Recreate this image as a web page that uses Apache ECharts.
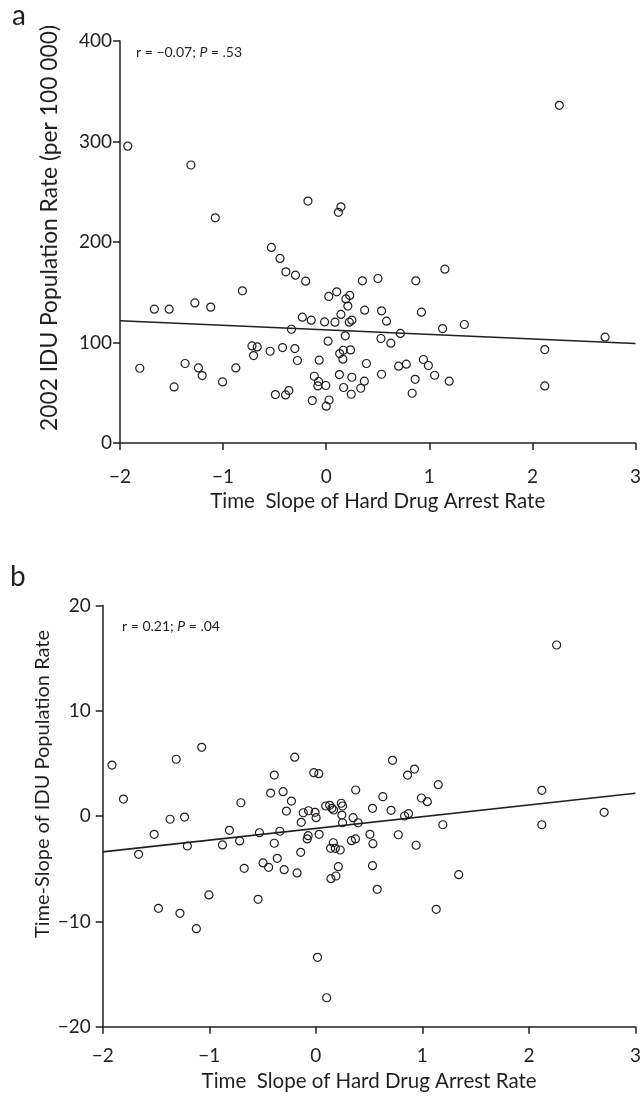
<!DOCTYPE html>
<html>
<head>
<meta charset="utf-8">
<script src="https://cdn.jsdelivr.net/npm/echarts@6/dist/echarts.min.js"></script>
<style>
html,body{margin:0;padding:0;background:#fff;}
#chart{width:644px;height:1100px;}
</style>
</head>
<body>
<div id="chart"></div>
<script>
// panel a: x = time slope of hard drug arrest rate, y = 2002 IDU population rate
var pointsA = [
	[-1.925,295.4],[-1.312,276.6],[-1.076,224.1],[-0.177,240.7],[0.143,235],[0.118,229.5],
	[2.261,336],[-0.532,194.6],[-0.448,183.7],[-0.391,170.3],[-0.298,167],[-0.199,161],
	[0.351,161.4],[0.502,163.7],[-0.813,151.4],[-1.667,133.2],[-1.523,133.2],[-1.274,139.4],
	[-1.12,135.2],[0.025,145.8],[0.102,150.4],[0.191,143.4],[0.229,146.8],[0.21,136.2],
	[0.143,127.9],[0.373,132.2],[0.224,120.2],[0.249,122.2],[-0.231,125.2],[-0.145,122.2],
	[-0.016,120.5],[0.085,120.2],[-0.337,113.2],[0.185,106.6],[0.018,101.3],[-1.808,74.4],
	[-1.475,55.8],[-1.369,79.1],[-1.239,74.7],[-1.203,67.1],[-1.005,60.8],[-0.877,74.7],
	[-0.72,96.6],[-0.669,95.6],[-0.704,87],[-0.544,91.3],[-0.423,95],[-0.304,94],
	[-0.279,82.1],[-0.493,48.2],[-0.394,47.8],[-0.362,52.2],[-0.068,82.4],[-0.135,42.2],
	[-0.116,66.4],[-0.074,61.2],[-0.081,56.8],[-0.004,57.2],[0.028,42.8],[0,36.6],
	[0.128,68.1],[0.131,89],[0.166,92.3],[0.162,83.4],[0.236,92.6],[0.169,55.2],
	[0.249,65.4],[0.243,48.5],[0.335,54.5],[0.37,61.5],[0.39,79.1],[0.869,161.4],
	[1.151,173],[0.537,131.5],[0.585,121.2],[0.924,130.2],[0.719,109],[1.129,113.9],
	[1.34,117.9],[0.531,104],[0.627,99.3],[2.705,105.3],[2.12,93],[2.12,56.8],
	[0.703,76.4],[0.777,78.4],[0.943,83.1],[0.991,77.1],[1.052,67.4],[0.537,68.4],
	[0.863,63.4],[0.834,49.5],[1.193,61.5]
];
var fitA = [[-2,121.6],[3,99]];

// panel b: x = same, y = time slope of IDU population rate
var pointsB = [
	[-1.913,4.85],[-1.31,5.4],[-1.071,6.53],[-0.198,5.6],[2.26,16.25],[0.72,5.3],
	[-1.805,1.62],[-1.368,-0.3],[-1.232,-0.09],[-1.517,-1.73],[-1.663,-3.63],[-1.205,-2.84],
	[-1.477,-8.76],[-1.275,-9.23],[-1.121,-10.69],[-1.003,-7.49],[-0.876,-2.74],[-0.811,-1.35],
	[-0.715,-2.36],[-0.703,1.27],[-0.672,-4.96],[-0.542,-7.9],[-0.529,-1.58],[-0.495,-4.45],
	[-0.443,-4.86],[-0.424,2.19],[-0.39,3.9],[-0.39,-2.58],[-0.362,-4.01],[-0.337,-1.44],
	[-0.307,2.32],[-0.276,0.48],[-0.297,-5.09],[-0.229,1.43],[-0.176,-5.4],[-0.142,-3.44],
	[-0.137,-0.59],[-0.118,0.32],[-0.068,0.51],[-0.007,0.36],[0.003,-0.15],[-0.081,-2.17],
	[-0.072,-1.86],[0.031,-1.73],[-0.019,4.12],[0.028,4.03],[0.093,0.96],[0.13,1.02],
	[0.151,0.74],[0.167,0.58],[0.239,1.22],[0.251,0.96],[0.244,0.1],[0.251,-0.63],
	[0.374,2.48],[0.35,-0.15],[0.397,-0.63],[0.164,-2.53],[0.139,-3.06],[0.183,-3.06],
	[0.229,-3.22],[0.211,-4.8],[0.142,-5.94],[0.189,-5.69],[0.334,-2.33],[0.372,-2.17],
	[0.508,-1.73],[0.532,0.74],[0.536,-2.62],[0.532,-4.71],[0.576,-6.95],[0.016,-13.41],
	[0.102,-17.25],[0.861,3.9],[0.926,4.47],[1.149,2.98],[0.629,1.84],[0.706,0.55],
	[0.991,1.72],[1.047,1.37],[0.833,0.01],[0.87,0.23],[1.192,-0.82],[0.774,-1.77],
	[0.941,-2.77],[1.341,-5.56],[1.13,-8.85],[2.121,2.45],[2.121,-0.82],[2.706,0.36]
];
var fitB = [[-2,-3.4],[3,2.17]];

var xRange = [-2, 3, 1];
var yRangeA = [0, 400, 100];
var yRangeB = [-20, 20, 10];

var xTitle = 'Time  Slope of Hard Drug Arrest Rate';
var yTitleA = '2002 IDU Population Rate (per 100 000)';
var yTitleB = 'Time-Slope of IDU Population Rate';

var ink = '#231f20';
var font = 'Lato';

function minus(v){ return String(v).replace('-', '\u2212'); }

function xAxisFor(idx, labelMargin, gap){
	return {
		type:'value', gridIndex:idx, min:xRange[0], max:xRange[1], interval:xRange[2],
		name:xTitle, nameLocation:'middle', nameGap:gap,
		nameTextStyle:{color:ink, fontSize:20.5, fontFamily:font},
		axisLine:{show:true, onZero:false, lineStyle:{color:ink, width:1.5}},
		axisTick:{show:true, inside:false, length:7, lineStyle:{color:ink, width:1.5}},
		axisLabel:{color:ink, fontSize:19, fontFamily:font, margin:labelMargin, formatter:minus},
		splitLine:{show:false}
	};
}
function yAxisFor(idx, range, labelMargin){
	return {
		type:'value', gridIndex:idx, min:range[0], max:range[1], interval:range[2],
		axisLine:{show:true, onZero:false, lineStyle:{color:ink, width:1.5}},
		axisTick:{show:true, inside:false, length:7, lineStyle:{color:ink, width:1.5}},
		axisLabel:{color:ink, fontSize:19, fontFamily:font, margin:labelMargin, formatter:minus},
		splitLine:{show:false}
	};
}
function dots(idx, data){
	return {
		type:'scatter', xAxisIndex:idx, yAxisIndex:idx, data:data,
		symbol:'circle', symbolSize:8, silent:true,
		itemStyle:{color:'rgba(0,0,0,0)', borderColor:ink, borderWidth:1.2, opacity:1}
	};
}
function fit(idx, data){
	return {
		type:'line', xAxisIndex:idx, yAxisIndex:idx, data:data,
		symbol:'none', silent:true, z:1,
		lineStyle:{color:ink, width:1.6}
	};
}

var myChart = echarts.init(document.getElementById('chart'), null, {renderer:'canvas'});

var option = {
	animation:false,
	backgroundColor:'#fff',
	textStyle:{fontFamily:font},
	grid:[
		{left:120, top:41, width:521, height:402},
		{left:102.7, top:605.5, width:538.3, height:421.2}
	],
	xAxis:[ xAxisFor(0, 24, 48), xAxisFor(1, 20, 44) ],
	yAxis:[ yAxisFor(0, yRangeA, 8), yAxisFor(1, yRangeB, 12) ],
	series:[ fit(0, fitA), dots(0, pointsA), fit(1, fitB), dots(1, pointsB) ],
	graphic:[
		{type:'text', left:12, top:2, style:{text:'a', fontSize:28, fontFamily:font, fill:ink}},
		{type:'text', left:10, top:563, style:{text:'b', fontSize:28, fontFamily:font, fill:ink}},
		{type:'text', x:50, y:228, rotation:Math.PI/2,
			style:{text:yTitleA, fontSize:22.8, fontFamily:font, fill:ink, align:'center', verticalAlign:'middle'}},
		{type:'text', x:43, y:784, rotation:Math.PI/2,
			style:{text:yTitleB, fontSize:20, fontFamily:font, fill:ink, align:'center', verticalAlign:'middle'}},
		{type:'text', x:136, y:52,
			style:{text:'{n|r = \u22120.07; }{i|P}{n| = .53}', verticalAlign:'middle',
				rich:{n:{fontSize:14, fontFamily:font, fill:ink}, i:{fontSize:14, fontFamily:font, fontStyle:'italic', fill:ink}}}},
		{type:'text', x:122, y:626,
			style:{text:'{n|r = 0.21; }{i|P}{n| = .04}', verticalAlign:'middle',
				rich:{n:{fontSize:14, fontFamily:font, fill:ink}, i:{fontSize:14, fontFamily:font, fontStyle:'italic', fill:ink}}}}
	]
};

myChart.setOption(option);
</script>
</body>
</html>
